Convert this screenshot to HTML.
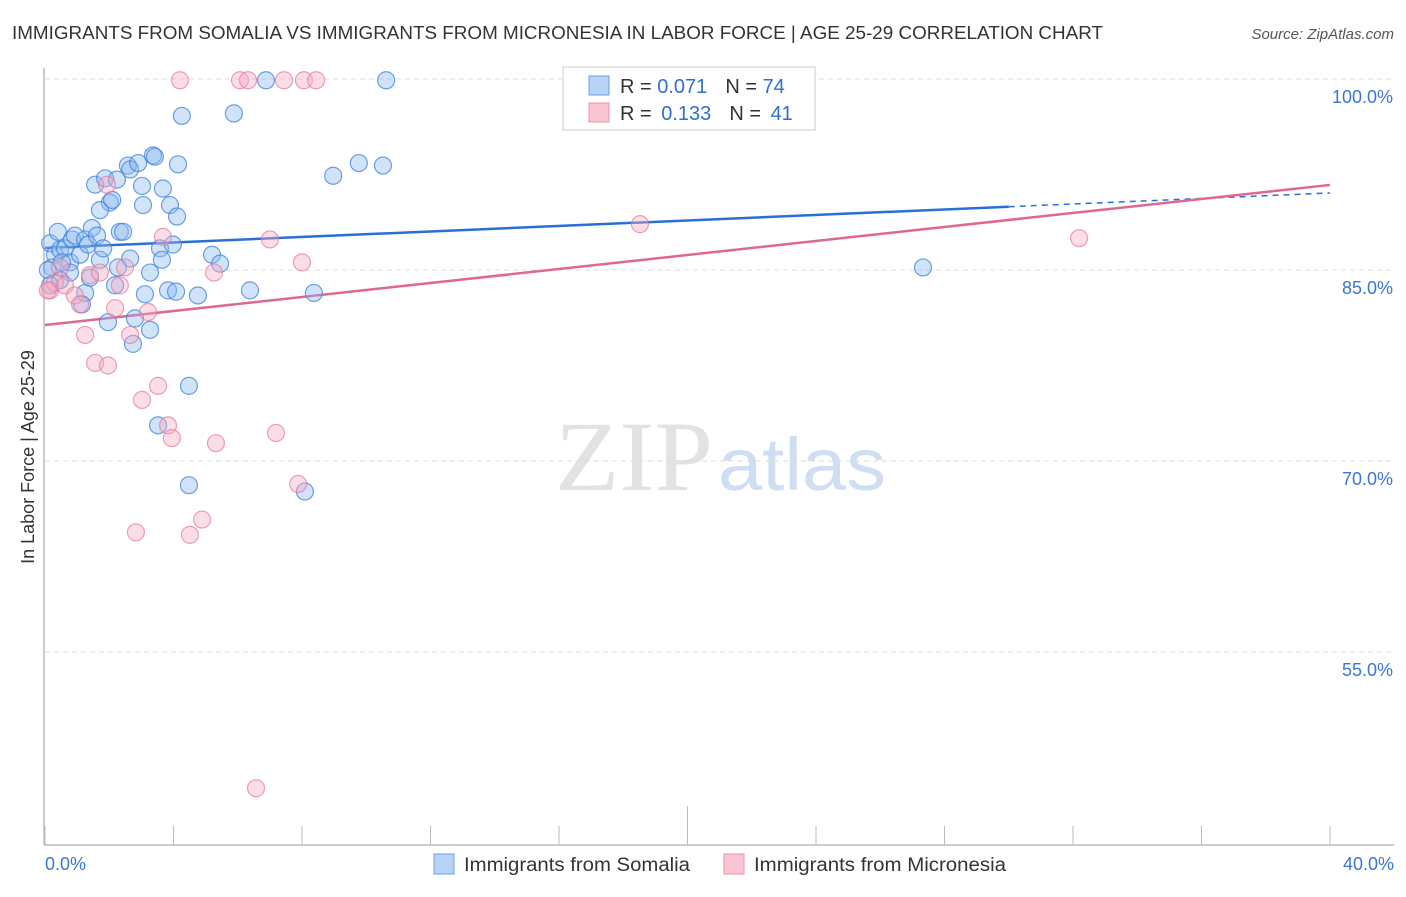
<!DOCTYPE html>
<html><head><meta charset="utf-8"><style>
body{margin:0;background:#fff;font-family:"Liberation Sans",sans-serif;}
</style></head><body>
<svg id="chart" width="1406" height="892" xmlns="http://www.w3.org/2000/svg">
<text x="12" y="39" font-size="18" fill="#333" textLength="1091" lengthAdjust="spacingAndGlyphs">IMMIGRANTS FROM SOMALIA VS IMMIGRANTS FROM MICRONESIA IN LABOR FORCE | AGE 25-29 CORRELATION CHART</text>
<text x="1394" y="39" font-size="15" fill="#555" font-style="italic" text-anchor="end">Source: ZipAtlas.com</text>
<text x="0" y="0" transform="translate(34,457) rotate(-90)" font-size="18" fill="#333" text-anchor="middle">In Labor Force | Age 25-29</text>
<g>
<text x="555" y="490" font-size="100" font-family="Liberation Serif,serif" fill="#e2e2e2" textLength="158" lengthAdjust="spacingAndGlyphs">ZIP</text>
<text x="718" y="490" font-size="74" fill="#d0def2" textLength="168" lengthAdjust="spacingAndGlyphs">atlas</text>
</g>
<g id="grid"></g><g id="axes"></g><g id="lines"></g><g id="pts"></g>
<g>
<rect x="563" y="67" width="252" height="63" fill="#fff" stroke="#ddd" stroke-width="1.5"/>
<rect x="589" y="76" width="20" height="19" fill="#b8d3f5" stroke="#6a9fe0"/>
<rect x="589" y="103" width="20" height="19" fill="#f9c5d3" stroke="#ec92ad"/>
<text x="620" y="93" font-size="20" fill="#333">R = <tspan fill="#2f6fd0">0.071</tspan><tspan dx="18">N = </tspan><tspan fill="#2f6fd0">74</tspan></text>
<text x="620" y="120" font-size="20" fill="#333">R = <tspan fill="#2f6fd0" dx="4">0.133</tspan><tspan dx="18">N = </tspan><tspan fill="#2f6fd0" dx="4">41</tspan></text>
</g>
<g>
<rect x="434" y="854" width="20" height="20" fill="#b8d3f5" stroke="#6a9fe0"/>
<text x="464" y="871" font-size="19" fill="#333" textLength="226" lengthAdjust="spacingAndGlyphs">Immigrants from Somalia</text>
<rect x="724" y="854" width="20" height="20" fill="#f9c5d3" stroke="#ec92ad"/>
<text x="754" y="871" font-size="19" fill="#333" textLength="252" lengthAdjust="spacingAndGlyphs">Immigrants from Micronesia</text>
</g>
</svg>
<script>
const blueX=[0.16,0.31,0.22,0.47,0.40,0.62,0.78,0.84,0.93,1.09,1.25,1.34,1.46,1.62,1.71,1.81,1.56,1.87,2.02,1.71,2.24,2.09,2.33,2.43,2.58,2.65,2.90,3.02,3.05,3.36,3.42,3.67,3.89,4.11,4.14,4.26,3.58,3.98,2.65,2.27,3.27,3.64,5.20,5.45,1.25,0.78,0.47,1.15,1.96,2.80,2.74,3.27,3.11,3.83,4.08,4.76,6.38,8.37,4.48,3.52,4.48,8.09,6.88,10.62,5.88,8.97,9.77,10.52,27.33,0.09,0.53,1.40,2.18,0.16];
const blueY=[87.1,86.2,85.2,86.6,88.0,86.7,85.6,87.4,87.7,86.2,87.4,87.0,88.3,87.7,85.8,86.7,91.7,92.2,90.3,89.7,92.1,90.5,88.0,88.0,93.2,92.9,93.4,91.6,90.1,94.0,93.9,91.4,90.1,89.2,93.3,97.1,86.7,87.0,85.9,85.2,84.8,85.8,86.2,85.5,83.2,84.8,84.2,82.3,80.9,81.2,79.2,80.3,83.1,83.4,83.3,83.0,83.4,83.2,75.9,72.8,68.1,67.6,99.9,99.9,97.3,92.4,93.4,93.2,85.2,85.0,85.6,84.4,83.8,83.8];
const pinkX=[4.20,6.07,6.32,7.44,8.06,8.44,0.16,0.31,0.62,0.93,1.09,1.25,1.56,1.96,1.40,1.71,1.93,2.18,2.33,2.49,2.65,3.02,3.21,3.52,3.67,3.83,3.95,5.32,5.26,7.00,7.19,8.00,7.88,2.83,4.51,4.89,6.57,18.52,32.19,0.47,0.09];
const pinkY=[99.9,99.9,99.9,99.9,99.9,99.9,83.4,84.0,83.8,83.0,82.3,79.9,77.7,77.5,84.6,84.8,91.7,82.0,83.8,85.2,79.9,74.8,81.7,75.9,87.6,72.8,71.8,71.4,84.8,87.4,72.2,85.6,68.2,64.4,64.2,65.4,44.3,88.6,87.5,85.2,83.4];
const blueLine=[86.73,91.05];
const pinkLine=[80.68,91.68];
const yTicks=[100,85,70,55];

const NS="http://www.w3.org/2000/svg";
const X=v=>45+v/40*1285;
const Y=v=>79+(100-v)*191/15;
function mk(tag,attrs,parent){const e=document.createElementNS(NS,tag);for(const k in attrs)e.setAttribute(k,attrs[k]);document.getElementById(parent).appendChild(e);return e;}
yTicks.forEach(t=>{
  const l=mk('line',{x1:45,x2:1394,y1:Y(t),y2:Y(t),stroke:'#ddd','stroke-dasharray':'5,4'},'grid');
  
  
  const tx=mk('text',{x:1393,y:Y(t)+24,'font-size':18,fill:'#3a76d6','text-anchor':'end'},'grid');
  tx.textContent=t.toFixed(1)+'%';
  
  
});
const ax=mk('line',{x1:44,x2:44,y1:68,y2:845,stroke:'#bbb','stroke-width':1.5},'axes');


const bx=mk('line',{x1:44,x2:1394,y1:845,y2:845,stroke:'#bbb','stroke-width':1.5},'axes');


for(let i=0;i<=10;i++){
  const t=mk('line',{x1:X(i*4),x2:X(i*4),y1:i==5?806:826,y2:845,stroke:'#bbb'},'axes');
  
  
}
[[0,'0.0%','start',45],[40,'40.0%','end',1394]].forEach(a=>{
  const t=mk('text',{x:a[3],y:870,'font-size':18,fill:'#3a76d6','text-anchor':a[2]},'axes');
  t.textContent=a[1];
  
  
});
const slope=(a,x)=>a[0]+(a[1]-a[0])*x/40;
let l1=mk('line',{x1:X(0),y1:Y(slope(blueLine,0)),x2:X(30),y2:Y(slope(blueLine,30)),stroke:'#2a6fd6','stroke-width':2.5},'lines');


let l2=mk('line',{x1:X(30),y1:Y(slope(blueLine,30)),x2:X(40),y2:Y(slope(blueLine,40)),stroke:'#2a6fd6','stroke-width':1.5,'stroke-dasharray':'6,5'},'lines');


let l3=mk('line',{x1:X(0),y1:Y(slope(pinkLine,0)),x2:X(40),y2:Y(slope(pinkLine,40)),stroke:'#e0688f','stroke-width':2.5},'lines');


blueX.forEach((x,i)=>{
  const c=mk('circle',{cx:X(x),cy:Y(blueY[i]),r:8.5,fill:'rgba(140,185,240,0.4)',stroke:'rgba(60,130,220,0.75)','stroke-width':1.2},'pts');
  
  
});
pinkX.forEach((x,i)=>{
  const c=mk('circle',{cx:X(x),cy:Y(pinkY[i]),r:8.5,fill:'rgba(245,170,195,0.4)',stroke:'rgba(230,120,155,0.7)','stroke-width':1.2},'pts');
  
  
});
</script>
</body></html>
